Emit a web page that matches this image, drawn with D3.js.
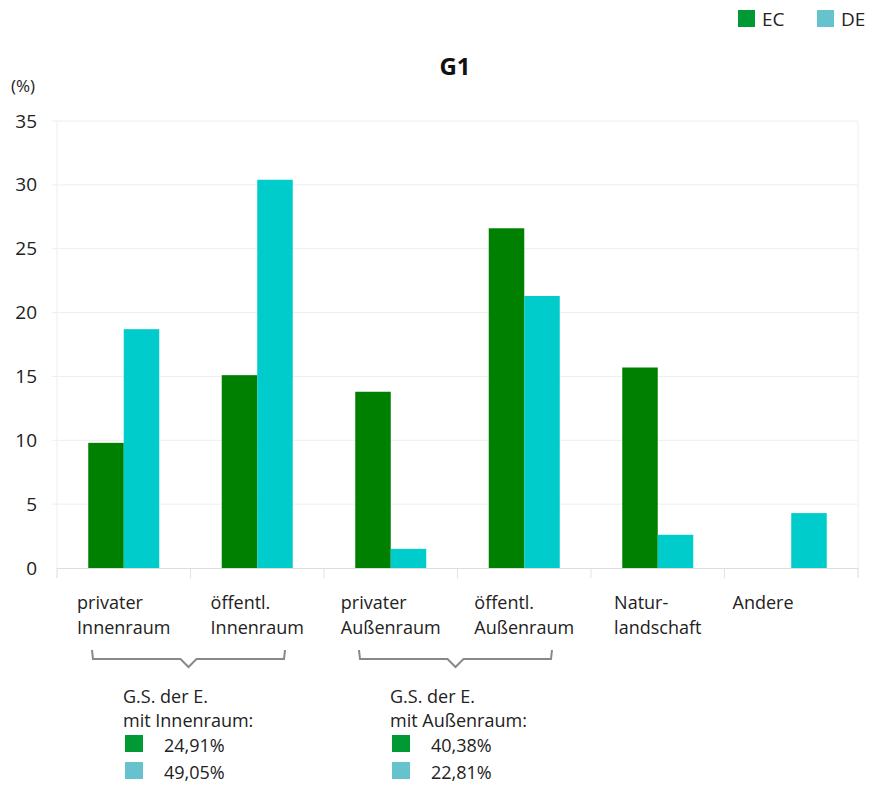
<!DOCTYPE html>
<html>
<head>
<meta charset="utf-8">
<script src="https://cdn.jsdelivr.net/npm/d3@7"></script>
<style>
  html, body { margin: 0; padding: 0; background: #fff; }
  svg { display: block; font-family: "Open Sans", "Noto Sans", sans-serif; }
</style>
</head>
<body>
<svg id="chart" width="869" height="785"></svg>
<script>
// Categories (two-line axis labels)
const categories = [
  ["privater", "Innenraum"],
  ["öffentl.", "Innenraum"],
  ["privater", "Außenraum"],
  ["öffentl.", "Außenraum"],
  ["Natur-", "landschaft"],
  ["Andere"]
];
const seriesNames = ["EC", "DE"];
const valuesEC = [9.8, 15.1, 13.8, 26.6, 15.7, 0];
const valuesDE = [18.7, 30.4, 1.5, 21.3, 2.6, 4.3];
const yTicks = [0, 5, 10, 15, 20, 25, 30, 35];

// Grouped summaries below the axis
const groupLabels = [["G.S. der E.", "mit Innenraum:"], ["G.S. der E.", "mit Außenraum:"]];
const groupSpans = [[0, 1], [2, 3]];
const groupEC = ["24,91%", "40,38%"];
const groupDE = ["49,05%", "22,81%"];

const barColors = { EC: "#008000", DE: "#00cccc" };
const keyColors = { EC: "#009933", DE: "#66c2cc" };

const svg = d3.select("#chart");
const plot = { left: 57, right: 858, top: 121, bottom: 568 };

const x0 = d3.scaleBand().domain(d3.range(categories.length))
  .range([plot.left, plot.right]).paddingInner(0).paddingOuter(0);
const x1 = d3.scaleBand().domain(seriesNames)
  .range([0, x0.bandwidth()]).paddingInner(0).paddingOuter(0.88);
const y = d3.scaleLinear().domain([0, 35]).range([plot.bottom, plot.top]);

// horizontal gridlines
svg.append("g").selectAll("line").data(yTicks.filter(d => d > 0)).join("line")
  .attr("x1", plot.left - 5).attr("x2", plot.right)
  .attr("y1", d => y(d)).attr("y2", d => y(d))
  .attr("stroke", "#eeeeee").attr("stroke-width", 1);

// left and right frame lines
svg.append("line").attr("x1", plot.left).attr("x2", plot.left)
  .attr("y1", plot.top).attr("y2", plot.bottom + 10)
  .attr("stroke", "#eeeeee");
svg.append("line").attr("x1", plot.right).attr("x2", plot.right)
  .attr("y1", plot.top).attr("y2", plot.bottom + 10)
  .attr("stroke", "#eeeeee");

// y axis labels
const yAxis = d3.axisLeft(y).tickValues(yTicks).tickSize(0).tickPadding(0);
const gy = svg.append("g").attr("transform", `translate(${plot.left - 20},0)`).call(yAxis);
gy.select(".domain").remove();
gy.selectAll("text").attr("font-size", 19).attr("fill", "#222")
  .attr("font-family", "'Open Sans', sans-serif");

svg.append("text").attr("x", 11).attr("y", 92).text("(%)")
  .attr("font-size", 17).attr("fill", "#222");

// bars
const data = categories.map((c, i) => ({ i, EC: valuesEC[i], DE: valuesDE[i] }));
const groups = svg.append("g").selectAll("g").data(data).join("g")
  .attr("transform", d => `translate(${x0(d.i)},0)`);
groups.selectAll("rect").data(d => seriesNames.map(k => ({ k, v: d[k] })).filter(e => e.v > 0))
  .join("rect")
  .attr("x", d => x1(d.k)).attr("width", x1.bandwidth())
  .attr("y", d => y(d.v)).attr("height", d => y(0) - y(d.v))
  .attr("fill", d => barColors[d.k]);

// baseline and category ticks
const xAxis = d3.axisBottom(x0).tickValues([]).tickSizeOuter(0);
const gx = svg.append("g").attr("transform", `translate(0,${plot.bottom})`).call(xAxis);
gx.select(".domain").attr("stroke", "#dddddd");
svg.append("g").selectAll("line").data(d3.range(categories.length + 1)).join("line")
  .attr("x1", i => plot.left + i * x0.bandwidth()).attr("x2", i => plot.left + i * x0.bandwidth())
  .attr("y1", plot.bottom).attr("y2", plot.bottom + 10)
  .attr("stroke", "#e2e2e2");

// category labels: each block of lines is left-aligned and centred on its band
const lab = svg.append("g").selectAll("text").data(categories).join("text")
  .attr("font-size", 18).attr("fill", "#222");
lab.each(function (c, i) {
  const t = d3.select(this);
  c.forEach((line, j) => {
    t.append("tspan").attr("x", 0).attr("y", 609 + j * 25).text(line);
  });
  const w = this.getBBox().width;
  const left = c.length > 1 ? x0(i) + (x0.bandwidth() - w) / 2 : x0(i) + 8;
  t.selectAll("tspan").attr("x", left);
});

// brackets grouping category pairs
groupSpans.forEach(([a, b]) => {
  const xa = x0(a) + 36, xb = x0(b) + x0.bandwidth() - 40;
  const xm = (xa + xb) / 2;
  const path = d3.path();
  path.moveTo(xa - 1, 650);
  path.lineTo(xa, 659);
  path.lineTo(xm - 8, 659);
  path.lineTo(xm, 667);
  path.lineTo(xm + 8, 659);
  path.lineTo(xb, 659);
  path.lineTo(xb + 1, 650);
  svg.append("path").attr("d", path.toString())
    .attr("fill", "none").attr("stroke", "#888").attr("stroke-width", 2);
});

// group summary blocks
groupSpans.forEach((span, g) => {
  const gx0 = x0(span[0]) + 66;
  const blk = svg.append("g");
  groupLabels[g].forEach((line, j) => {
    blk.append("text").attr("x", gx0).attr("y", 703 + j * 24).text(line)
      .attr("font-size", 18).attr("fill", "#222");
  });
  [[keyColors.EC, groupEC[g]], [keyColors.DE, groupDE[g]]].forEach(([col, txt], j) => {
    blk.append("rect").attr("x", gx0 + 2).attr("y", 735 + j * 27).attr("width", 18).attr("height", 17)
      .attr("fill", col);
    blk.append("text").attr("x", gx0 + 41).attr("y", 752 + j * 27).text(txt)
      .attr("font-size", 18).attr("fill", "#222");
  });
});

// title
svg.append("text").attr("x", 455).attr("y", 75).attr("text-anchor", "middle")
  .attr("font-size", 24).attr("font-weight", "bold").attr("fill", "#111").text("G1");

// legend
const legend = svg.append("g");
seriesNames.forEach((k, i) => {
  const lx = 738 + i * 79;
  legend.append("rect").attr("x", lx).attr("y", 10).attr("width", 17).attr("height", 17)
    .attr("fill", keyColors[k]);
  legend.append("text").attr("x", lx + 24).attr("y", 26).text(k)
    .attr("font-size", 19).attr("fill", "#222");
});
</script>
</body>
</html>
